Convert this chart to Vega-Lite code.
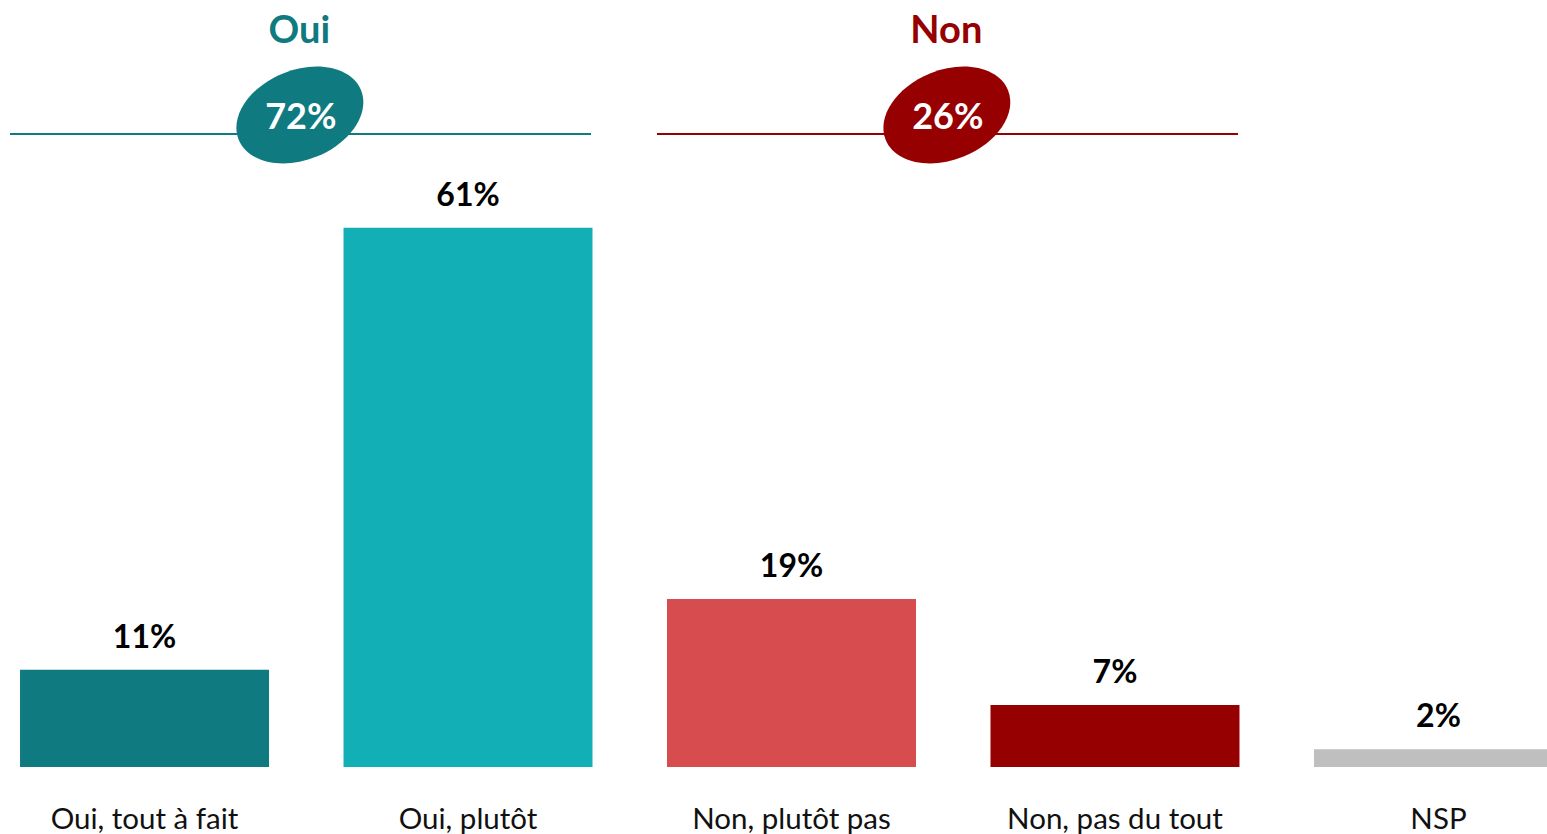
{
  "$schema": "https://vega.github.io/schema/vega-lite/v6.json",
  "width": 1547,
  "height": 767,
  "autosize": {"type": "none"},
  "padding": {"left": 0, "right": 0, "top": 0, "bottom": 67},
  "background": "white",
  "config": {"view": {"stroke": null}, "font": "Lato"},
  "datasets": {
    "bars": [
      {"cat": "Oui, tout à fait", "value": 0.11},
      {"cat": "Oui, plutôt", "value": 0.61},
      {"cat": "Non, plutôt pas", "value": 0.19},
      {"cat": "Non, pas du tout", "value": 0.07},
      {"cat": "NSP", "value": 0.02}
    ],
    "groups": [
      {"group": "Oui", "total": 0.72, "from": "Oui, tout à fait", "to": "Oui, plutôt"},
      {"group": "Non", "total": 0.26, "from": "Non, plutôt pas", "to": "Non, pas du tout"}
    ]
  },
  "layer": [
    {
      "data": {"name": "bars"},
      "mark": {"type": "bar", "clip": true},
      "encoding": {
        "x": {"field": "cat", "type": "nominal", "sort": null,
          "scale": {"domain": ["Oui, tout à fait", "Oui, plutôt", "Non, plutôt pas", "Non, pas du tout", "NSP"],
            "range": [0, 1583], "paddingInner": 0.2303, "paddingOuter": 0.0619},
          "axis": {"title": null, "domain": false, "ticks": false, "tickSize": 0, "labelAngle": 0,
            "labelFontSize": 29.5, "labelColor": "#111111", "labelBaseline": "alphabetic", "labelLimit": 0,
            "labelPadding": 61, "labelFont": "Lato", "labelFontWeight": "normal"}},
        "y": {"field": "value", "type": "quantitative",
          "scale": {"domain": [0, 0.8677], "nice": false, "zero": true}, "axis": null},
        "color": {"field": "cat", "type": "nominal", "legend": null,
          "scale": {"domain": ["Oui, tout à fait", "Oui, plutôt", "Non, plutôt pas", "Non, pas du tout", "NSP", "Oui", "Non"],
            "range": ["#0F7A80", "#13AFB7", "#D64C4F", "#960000", "#BFBFBF", "#0F7A80", "#960000"]}}
      }
    },
    {
      "data": {"name": "bars"},
      "mark": {"type": "text", "baseline": "alphabetic", "dy": -22, "fontSize": 32, "fontWeight": "bold", "color": "#000000", "font": "Lato"},
      "encoding": {
        "x": {"field": "cat", "type": "nominal", "sort": null},
        "y": {"field": "value", "type": "quantitative"},
        "text": {"field": "value", "type": "quantitative", "format": ".0%"}
      }
    },
    {
      "data": {"name": "groups"},
      "mark": {"type": "rule", "strokeWidth": 2, "xOffset": -10, "x2Offset": 123},
      "encoding": {
        "x": {"field": "from", "type": "nominal", "bandPosition": 0},
        "x2": {"field": "to"},
        "y": {"datum": 0.716},
        "color": {"field": "group", "type": "nominal"}
      }
    },
    {
      "data": {"name": "groups"},
      "mark": {"type": "point", "filled": true, "opacity": 1, "size": 17424, "angle": -22, "xOffset": -6.5,
        "shape": "M -1 0 A 1 0.68 0 1 0 1 0 A 1 0.68 0 1 0 -1 0 Z"},
      "encoding": {
        "x": {"field": "from", "type": "nominal", "bandPosition": 1.15},
        "y": {"datum": 0.7376},
        "color": {"field": "group", "type": "nominal"}
      }
    },
    {
      "data": {"name": "groups"},
      "mark": {"type": "text", "baseline": "alphabetic", "fontSize": 36, "fontWeight": "bold", "color": "white", "xOffset": -5.5, "font": "Lato"},
      "encoding": {
        "x": {"field": "from", "type": "nominal", "bandPosition": 1.15},
        "y": {"datum": 0.7223},
        "text": {"field": "total", "type": "quantitative", "format": ".0%"}
      }
    },
    {
      "data": {"name": "groups"},
      "mark": {"type": "text", "baseline": "alphabetic", "fontSize": 38, "fontWeight": "bold", "xOffset": -7, "font": "Lato"},
      "encoding": {
        "x": {"field": "from", "type": "nominal", "bandPosition": 1.15},
        "y": {"datum": 0.819},
        "text": {"field": "group", "type": "nominal"},
        "color": {"field": "group", "type": "nominal"}
      }
    }
  ]
}
